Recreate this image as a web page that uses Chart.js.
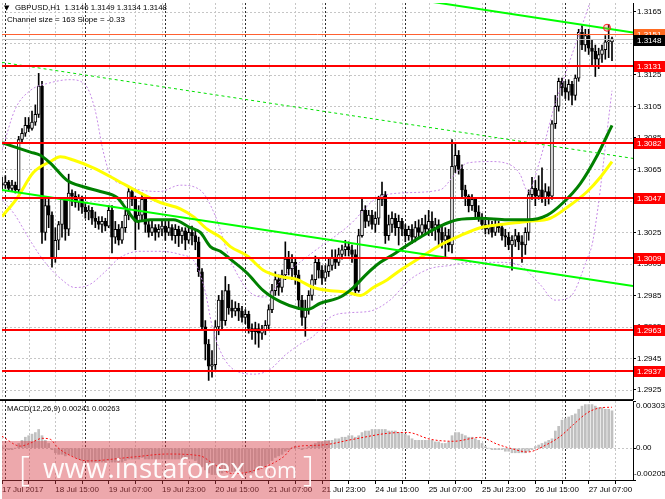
<!DOCTYPE html>
<html><head><meta charset="utf-8">
<script src="https://cdn.jsdelivr.net/npm/chart.js@4.4.1/dist/chart.umd.min.js"></script>
<style>
html,body{margin:0;padding:0;background:#fff;overflow:hidden}
#wrap{position:relative;width:665px;height:499px;background:#fff}
.pane{position:absolute;left:0}
</style></head><body>
<div id="wrap">
<div class="pane" style="top:0;width:665px;height:400px"><canvas id="main" width="665" height="400"></canvas></div>
<div class="pane" style="top:400px;width:665px;height:99px"><canvas id="macd" width="665" height="99"></canvas></div>
</div>
<script>
// ---------------- DATA ----------------
const symbol = 'GBPUSD,H1';
const xLabels = ['17 Jul 2017','18 Jul 15:00','19 Jul 07:00','19 Jul 23:00','20 Jul 15:00','21 Jul 07:00','21 Jul 23:00','24 Jul 15:00','25 Jul 07:00','25 Jul 23:00','26 Jul 15:00','27 Jul 07:00'];
const labelBars = [0,16,32,48,64,80,96,112,128,144,160,176];
const dayStarts = [1,25,49,73,97,121,145,169];
const priceTicks = [1.2925,1.2945,1.2965,1.2985,1.3005,1.3025,1.3045,1.3065,1.3085,1.3105,1.3125,1.3145,1.3165];
const levels = [1.3131,1.3082,1.3047,1.3009,1.2963,1.2937];
const askLine = 1.3151;
const bidLine = 1.3148;
const channelSize = 163, channelSlope = -0.33;

const opens = [1.3056,1.3055,1.3057,1.3053,1.3055,1.3052,1.3084,1.3088,1.3093,1.3091,
1.3095,1.3100,1.3118,1.3025,1.3042,1.3036,1.3009,1.3020,1.3030,1.3046,
1.3027,1.3050,1.3048,1.3044,1.3047,1.3041,1.3038,1.3039,1.3034,1.3032,
1.3030,1.3032,1.3029,1.3039,1.3022,1.3027,1.3020,1.3028,1.3036,1.3051,
1.3046,1.3032,1.3036,1.3046,1.3030,1.3025,1.3028,1.3025,1.3027,1.3029,
1.3025,1.3028,1.3023,1.3027,1.3023,1.3026,1.3020,1.3025,1.3023,1.3019,
1.3000,1.2965,1.2954,1.2940,1.2941,1.2965,1.2982,1.2969,1.2988,1.2977,
1.2975,1.2977,1.2975,1.2971,1.2973,1.2964,1.2962,1.2964,1.2961,1.2963,
1.2966,1.2976,1.2988,1.2995,1.2990,1.2998,1.3008,1.3002,1.3006,1.2998,
1.2982,1.2971,1.2976,1.2985,1.2995,1.3006,1.3001,1.2996,1.3000,1.3004,
1.3009,1.3006,1.3011,1.3014,1.3016,1.3014,1.3011,1.2988,1.3023,1.3039,
1.3032,1.3036,1.3030,1.3034,1.3046,1.3049,1.3023,1.3030,1.3034,1.3028,
1.3032,1.3027,1.3023,1.3027,1.3022,1.3028,1.3025,1.3030,1.3027,1.3032,
1.3028,1.3030,1.3025,1.3020,1.3023,1.3017,1.3067,1.3074,1.3065,1.3052,
1.3048,1.3042,1.3046,1.3038,1.3034,1.3030,1.3027,1.3029,1.3025,1.3030,
1.3028,1.3023,1.3022,1.3017,1.3020,1.3023,1.3019,1.3017,1.3025,1.3049,
1.3053,1.3048,1.3052,1.3047,1.3051,1.3048,1.3094,1.3105,1.3121,1.3117,
1.3114,1.3119,1.3112,1.3123,1.3152,1.3144,1.3150,1.3142,1.3140,1.3135,
1.3138,1.3141,1.3146,1.3146];
const closes = [1.3055,1.3057,1.3053,1.3055,1.3052,1.3084,1.3088,1.3093,1.3091,1.3095,
1.3100,1.3118,1.3025,1.3042,1.3036,1.3009,1.3020,1.3030,1.3046,1.3027,
1.3050,1.3048,1.3044,1.3047,1.3041,1.3038,1.3039,1.3034,1.3032,1.3030,
1.3032,1.3029,1.3039,1.3022,1.3027,1.3020,1.3028,1.3036,1.3051,1.3046,
1.3032,1.3036,1.3046,1.3030,1.3025,1.3028,1.3025,1.3027,1.3029,1.3025,
1.3028,1.3023,1.3027,1.3023,1.3026,1.3020,1.3025,1.3023,1.3019,1.3000,
1.2965,1.2954,1.2940,1.2941,1.2965,1.2982,1.2969,1.2988,1.2977,1.2975,
1.2977,1.2975,1.2971,1.2973,1.2964,1.2962,1.2964,1.2961,1.2963,1.2966,
1.2976,1.2988,1.2995,1.2990,1.2998,1.3008,1.3002,1.3006,1.2998,1.2982,
1.2971,1.2976,1.2985,1.2995,1.3006,1.3001,1.2996,1.3000,1.3004,1.3009,
1.3006,1.3011,1.3014,1.3016,1.3014,1.3011,1.2988,1.3023,1.3039,1.3032,
1.3036,1.3030,1.3034,1.3046,1.3049,1.3023,1.3030,1.3034,1.3028,1.3032,
1.3027,1.3023,1.3027,1.3022,1.3028,1.3025,1.3030,1.3027,1.3032,1.3028,
1.3030,1.3025,1.3020,1.3023,1.3017,1.3067,1.3074,1.3065,1.3052,1.3048,
1.3042,1.3046,1.3038,1.3034,1.3030,1.3027,1.3029,1.3025,1.3030,1.3028,
1.3023,1.3022,1.3017,1.3020,1.3023,1.3019,1.3017,1.3025,1.3049,1.3053,
1.3048,1.3052,1.3047,1.3051,1.3048,1.3094,1.3105,1.3121,1.3117,1.3114,
1.3119,1.3112,1.3123,1.3152,1.3144,1.3150,1.3142,1.3140,1.3135,1.3138,
1.3141,1.3146,1.3146,1.3148];
const highs = [1.3060,1.3061,1.3058,1.3058,1.3057,1.3086,1.3091,1.3098,1.3098,1.3102,
1.3106,1.3126,1.3121,1.3047,1.3046,1.3038,1.3028,1.3032,1.3047,1.3047,
1.3062,1.3052,1.3051,1.3049,1.3048,1.3044,1.3042,1.3041,1.3038,1.3035,
1.3035,1.3034,1.3042,1.3042,1.3032,1.3030,1.3032,1.3039,1.3054,1.3053,
1.3048,1.3042,1.3050,1.3047,1.3033,1.3032,1.3030,1.3030,1.3033,1.3032,
1.3032,1.3030,1.3030,1.3029,1.3028,1.3028,1.3028,1.3029,1.3027,1.3022,
1.3002,1.2969,1.2957,1.2950,1.2969,1.2985,1.2988,1.2997,1.2992,1.2982,
1.2981,1.2980,1.2978,1.2976,1.2975,1.2967,1.2968,1.2967,1.2966,1.2969,
1.2979,1.2992,1.3000,1.2998,1.3001,1.3019,1.3013,1.3011,1.3009,1.3001,
1.2985,1.2982,1.2988,1.2998,1.3010,1.3009,1.3004,1.3004,1.3009,1.3014,
1.3014,1.3015,1.3017,1.3020,1.3019,1.3017,1.3014,1.3027,1.3047,1.3042,
1.3039,1.3039,1.3038,1.3048,1.3057,1.3051,1.3036,1.3038,1.3037,1.3036,
1.3034,1.3030,1.3029,1.3030,1.3032,1.3033,1.3034,1.3036,1.3039,1.3038,
1.3034,1.3033,1.3030,1.3028,1.3027,1.3084,1.3081,1.3077,1.3068,1.3055,
1.3049,1.3049,1.3047,1.3042,1.3037,1.3033,1.3033,1.3032,1.3033,1.3032,
1.3030,1.3027,1.3025,1.3023,1.3027,1.3025,1.3023,1.3028,1.3052,1.3060,
1.3058,1.3061,1.3066,1.3056,1.3054,1.3096,1.3112,1.3123,1.3123,1.3121,
1.3122,1.3121,1.3125,1.3154,1.3157,1.3154,1.3154,1.3147,1.3144,1.3142,
1.3144,1.3150,1.3157,1.3149];
const lows = [1.3052,1.3053,1.3051,1.3051,1.3050,1.3050,1.3082,1.3086,1.3089,1.3090,
1.3093,1.3098,1.3018,1.3020,1.3028,1.3003,1.3006,1.3014,1.3022,1.3020,
1.3023,1.3042,1.3041,1.3039,1.3037,1.3034,1.3033,1.3030,1.3028,1.3027,
1.3025,1.3026,1.3028,1.3012,1.3018,1.3017,1.3018,1.3025,1.3033,1.3042,
1.3014,1.3027,1.3032,1.3025,1.3022,1.3023,1.3020,1.3022,1.3023,1.3020,
1.3023,1.3020,1.3018,1.3016,1.3018,1.3014,1.3018,1.3017,1.3014,1.2997,
1.2963,1.2944,1.2931,1.2933,1.2938,1.2960,1.2963,1.2966,1.2973,1.2971,
1.2972,1.2969,1.2968,1.2967,1.2961,1.2957,1.2954,1.2952,1.2957,1.2960,
1.2963,1.2974,1.2985,1.2985,1.2987,1.2995,1.2998,1.2995,1.2992,1.2976,
1.2966,1.2959,1.2973,1.2982,1.2992,1.2996,1.2992,1.2994,1.2997,1.3001,
1.3002,1.3004,1.3008,1.3010,1.3010,1.3006,1.2985,1.2987,1.3022,1.3028,
1.3029,1.3027,1.3025,1.3030,1.3042,1.3018,1.3020,1.3025,1.3023,1.3017,
1.3023,1.3019,1.3020,1.3018,1.3019,1.3022,1.3023,1.3024,1.3023,1.3023,
1.3020,1.3017,1.3015,1.3009,1.3013,1.3012,1.3063,1.3062,1.3047,1.3042,
1.3038,1.3039,1.3035,1.3032,1.3027,1.3024,1.3024,1.3022,1.3023,1.3025,
1.3020,1.3016,1.3014,1.3001,1.3016,1.3014,1.3006,1.3011,1.3020,1.3046,
1.3042,1.3046,1.3044,1.3042,1.3043,1.3046,1.3091,1.3102,1.3112,1.3110,
1.3109,1.3106,1.3109,1.3121,1.3141,1.3140,1.3138,1.3131,1.3124,1.3129,
1.3133,1.3135,1.3136,1.3134];

// moving averages / bands: [bar, price]
const greenMa = [[0,1.3082],[8.5,1.3076],[11.5,1.3074],[14.5,1.3069],[19.6,1.3058],[24.4,1.3054],[29.5,1.3051],[34.6,1.3047],[37.6,1.3039],[40.6,1.3032],[44.5,1.3033],[51.4,1.3033],[56.5,1.3028],[59.5,1.3025],[62.5,1.3016],[65.5,1.3013],[68.5,1.3008],[73.6,1.2999],[78.4,1.2988],[83.5,1.2981],[88.6,1.2977],[91.6,1.2976],[95.5,1.2980],[101.5,1.2984],[105.4,1.2990],[109.6,1.2999],[113.5,1.3006],[117.4,1.3011],[119.5,1.3014],[125.5,1.3022],[131.5,1.3029],[136.6,1.3033],[143.5,1.3034],[151.6,1.3033],[157.6,1.3033],[163.6,1.3036],[168.4,1.3044],[173.5,1.3056],[178.6,1.3074],[183,1.3093]];
const yellowMa = [[0,1.3035],[4.6,1.3047],[9.4,1.3063],[14.5,1.3070],[17.5,1.3073],[21.4,1.3071],[27.4,1.3066],[34.6,1.3058],[41.5,1.3050],[47.5,1.3044],[53.5,1.3040],[57.4,1.3035],[61.6,1.3027],[65.5,1.3022],[68.5,1.3016],[73.6,1.3010],[78.4,1.3001],[83.5,1.2997],[88.6,1.2995],[93.4,1.2990],[98.5,1.2988],[103.6,1.2987],[107.5,1.2985],[111.4,1.2990],[115.6,1.2995],[119.5,1.3001],[125.5,1.3009],[131.5,1.3017],[137.5,1.3023],[143.5,1.3028],[149.5,1.3030],[157.6,1.3032],[164.5,1.3034],[169.6,1.3041],[175.6,1.3051],[179.5,1.3060],[183,1.3070]];
const bandUpper = [[0,1.3077],[3.9,1.3103],[8.4,1.3115],[14.4,1.3120],[20.4,1.3122],[24.9,1.3119],[27.9,1.3103],[30.3,1.3077],[32.4,1.3062],[36.9,1.3055],[41.4,1.3052],[47.4,1.3051],[53.4,1.3055],[59.4,1.3052],[63.9,1.3036],[68.4,1.3008],[74.4,1.2987],[78.9,1.2984],[84.9,1.2998],[92.4,1.3011],[104.4,1.3030],[111.9,1.3046],[119.4,1.3050],[131.4,1.3052],[135.9,1.3062],[139.5,1.3069],[146.4,1.3070],[152.4,1.3068],[155.4,1.3062],[157.8,1.3051],[161.4,1.3071],[165.3,1.3102],[168.9,1.3125],[172.8,1.3149],[176.4,1.3171],[179.4,1.3189],[183,1.3205]];
const bandLower = [[0,1.3046],[3.9,1.3036],[8.4,1.3020],[12.9,1.3006],[17.4,1.2996],[21.9,1.2990],[26.4,1.2992],[30.9,1.3000],[35.4,1.3009],[41.4,1.3013],[47.4,1.3013],[53.4,1.3011],[57.9,1.3006],[60.9,1.2988],[63.3,1.2963],[66.9,1.2944],[71.4,1.2936],[75.9,1.2935],[80.4,1.2938],[84.9,1.2947],[89.4,1.2954],[93.9,1.2960],[98.4,1.2971],[104.4,1.2974],[110.4,1.2975],[116.4,1.2982],[122.4,1.2995],[128.4,1.3002],[134.4,1.3004],[140.4,1.3006],[149.4,1.3006],[155.4,1.3004],[161.4,1.2992],[165.9,1.2982],[170.4,1.2984],[175.5,1.3008],[177.3,1.3020],[183,1.3115]];
// regression channel endpoints [bar start, bar end]
const channelBars = [0,189.3];
const channelUpper = [1.3213,1.3152];
const channelMid = [1.3133,1.3072];
const channelLower = [1.3052,1.2991];
const alertMark = [181.5,1.3155];

// MACD(12,26,9)
const macdHist = [0.0001,0.0000,-0.0001,-0.0001,0.0000,0.0003,0.0005,0.0007,0.0008,0.0009,
0.0010,0.0012,0.0008,0.0005,0.0003,-0.0001,-0.0003,-0.0004,-0.0004,-0.0005,
-0.0004,-0.0005,-0.0006,-0.0007,-0.0008,
-0.0008,-0.0009,-0.0009,-0.0009,-0.0009,-0.0009,-0.0009,-0.0008,-0.0009,-0.0009,-0.0009,
-0.0009,-0.0008,-0.0007,-0.0007,-0.0007,-0.0007,-0.0006,-0.0007,-0.0007,-0.0007,
-0.0007,-0.0007,-0.0007,-0.0007,-0.0007,-0.0007,-0.0007,-0.0007,-0.0007,-0.0007,-0.0007,-0.0007,-0.0008,
-0.0010,-0.0012,-0.0014,-0.0016,-0.0017,-0.0017,-0.0016,-0.0016,-0.0015,-0.0015,-0.0015,-0.0015,-0.0015,-0.0015,-0.0016,-0.0016,-0.0016,
-0.0015,-0.0014,-0.0013,-0.0012,-0.0010,-0.0008,-0.0006,-0.0005,-0.0004,-0.0002,-0.0001,
0.0000,0.0001,0.0000,-0.0001,0.0000,0.0001,0.0002,0.0003,0.0004,
0.0004,0.0005,0.0005,
0.0005,0.0006,0.0006,0.0007,0.0007,
0.0008,0.0008,0.0007,0.0008,0.0010,0.0011,0.0011,0.0012,
0.0012,0.0012,0.0012,0.0012,
0.0011,0.0011,0.0011,0.0010,0.0010,
0.0009,0.0008,0.0006,
0.0005,0.0005,0.0005,0.0005,0.0005,
0.0005,0.0004,0.0004,0.0003,0.0003,
0.0004,0.0008,
0.0010,0.0010,0.0009,
0.0008,0.0007,0.0007,0.0006,0.0005,
0.0003,0.0001,
0.0000,-0.0001,-0.0001,-0.0001,-0.0001,-0.0002,
-0.0002,-0.0003,-0.0003,-0.0003,-0.0003,-0.0003,-0.0002,-0.0001,
0.0001,0.0002,0.0003,0.0004,0.0005,0.0006,
0.0011,0.0014,
0.0018,0.0019,0.0020,0.0021,
0.0022,0.0025,0.0027,0.0028,
0.0028,0.0028,0.0027,
0.0026,0.0026,0.0025,0.0025,0.0024];
const macdSignal = [[0,0.00076],[5.5,0.00013],[8.5,0.00032],[12.1,0.00063],[14.5,0.00057],[16.6,0.00006],[19.6,-0.00038],[25.6,-0.00082],[39.4,-0.00057],[49.6,-0.00038],[59.5,-0.00050],[63.4,-0.00101],[69.4,-0.00164],[75.4,-0.00145],[84.4,-0.00057],[87.4,0.00006],[95.5,0.00019],[105.4,0.00057],[115.6,0.00095],[121.6,0.00101],[128.5,0.00057],[135.4,0.00044],[143.5,0.00069],[148.6,0.00025],[153.4,-0.00006],[157.6,-0.00025],[163.6,0.00025],[167.5,0.00076],[171.4,0.00151],[175.6,0.00227],[179.5,0.00259],[183,0.00263]];
const macdTicks = [0.00303,0,-0.00205];
const macdNow = 0.00241, signalNow = 0.00263;

// ---------------- RENDER ----------------
const FONT = '"Liberation Sans", Arial, sans-serif';
const XMAX = 189.3;
const idx = closes.map((_, i) => i);
const last = closes.length - 1;

function dline(ctx,x1,y1,x2,y2){ctx.beginPath();ctx.moveTo(x1,y1);ctx.lineTo(x2,y2);ctx.stroke();}
function fitText(ctx, txt, x, y, w, fam, weight){
  weight = weight || '';
  ctx.font = weight + ' 10px ' + fam;
  const s = 10 * w / ctx.measureText(txt).width;
  ctx.font = weight + ' ' + s.toFixed(2) + 'px ' + fam;
  ctx.fillText(txt, x, y);
  return ctx.measureText(txt).width;
}
function vGrid(chart){
  const {ctx, chartArea:a, scales:{x}} = chart;
  ctx.save(); ctx.lineWidth = 1;
  ctx.strokeStyle = '#c6c6c6'; ctx.setLineDash([2,2]);
  for (let b = 0; b <= XMAX; b += 8) { const px = Math.round(x.getPixelForValue(b)) + 0.5; dline(ctx, px, a.top, px, a.bottom); }
  ctx.strokeStyle = '#303030'; ctx.setLineDash([2,2]);
  dayStarts.forEach(b => { const px = Math.round(x.getPixelForValue(b)) + 0.5; dline(ctx, px, a.top, px, a.bottom); });
  ctx.restore();
}
function tag(ctx, py, text, bg, fg, left){
  const yy = Math.round(py);
  ctx.fillStyle = bg; ctx.fillRect(left, yy - 5, 31, 11);
  ctx.fillStyle = fg; ctx.font = '8px ' + FONT; ctx.textBaseline = 'middle'; ctx.textAlign = 'left';
  ctx.fillText(text, left + 3, yy + 0.5);
}

const mainDecor = {
  id: 'mainDecor',
  beforeDatasetsDraw(chart){
    const {ctx, chartArea:a, scales:{y}} = chart;
    ctx.save(); ctx.lineWidth = 1; ctx.strokeStyle = '#c6c6c6'; ctx.setLineDash([2,2]);
    priceTicks.forEach(v => { const py = Math.round(y.getPixelForValue(v)) + 0.5; dline(ctx, a.left, py, a.right, py); });
    ctx.restore();
    vGrid(chart);
  },
  afterDatasetsDraw(chart){
    const {ctx, chartArea:a, scales:{y}} = chart;
    ctx.save();
    ctx.beginPath(); ctx.rect(a.left, a.top, a.right - a.left, a.bottom - a.top); ctx.clip();
    ctx.strokeStyle = '#c0c0c0'; ctx.lineWidth = 1;
    let py = Math.round(y.getPixelForValue(bidLine)) + 0.5; dline(ctx, a.left, py, a.right, py);
    ctx.strokeStyle = '#ff6030';
    py = Math.round(y.getPixelForValue(askLine)) + 0.5; dline(ctx, a.left, py, a.right, py);
    ctx.strokeStyle = '#ff0000'; ctx.lineWidth = 2;
    levels.forEach(v => { const p = Math.round(y.getPixelForValue(v)); dline(ctx, a.left, p, a.right, p); });
    ctx.restore();
  },
  afterDraw(chart){
    const {ctx, chartArea:a, scales:{y}} = chart;
    ctx.save();
    levels.forEach(v => tag(ctx, y.getPixelForValue(v), v.toFixed(4), '#ff0000', '#ffffff', a.right + 1));
    tag(ctx, y.getPixelForValue(askLine), askLine.toFixed(4), '#ff6a20', '#ffffff', a.right + 1);
    tag(ctx, y.getPixelForValue(bidLine) + 1, bidLine.toFixed(4), '#000000', '#ffffff', a.right + 1);
    ctx.strokeStyle = '#202020'; ctx.lineWidth = 1; dline(ctx, 0, 399.5, a.right, 399.5);
    ctx.fillStyle = '#000'; ctx.textBaseline = 'middle'; ctx.textAlign = 'left';
    ctx.font = '7px "DejaVu Sans"'; ctx.fillText('\u25BC', 4, 8);
    const head = symbol + '  ' + opens[last].toFixed(4) + ' ' + highs[last].toFixed(4) + ' ' + lows[last].toFixed(4) + ' ' + closes[last].toFixed(4);
    fitText(ctx, head, 15, 8, 152, FONT);
    fitText(ctx, 'Channel size = ' + channelSize + ' Slope = ' + channelSlope.toFixed(2), 7, 19.5, 118, FONT);
    ctx.restore();
  }
};

const pts = arr => arr.map(p => ({x: p[0], y: p[1]}));
const seg = (bars, vals) => bars.map((b, i) => ({x: b, y: vals[i]}));

new Chart(document.getElementById('main'), {
  type: 'bar',
  data: {
    datasets: [
      { type:'line', data: [{x: alertMark[0], y: alertMark[1]}], showLine:false, pointRadius:3.5, pointBorderColor:'#ff2020', pointBackgroundColor:'rgba(255,90,90,0.25)', pointBorderWidth:1, order:1 },
      { type:'line', data: seg(channelBars, channelUpper), borderColor:'#00ff00', borderWidth:2, pointRadius:0, order:5 },
      { type:'line', data: seg(channelBars, channelLower), borderColor:'#00ff00', borderWidth:2, pointRadius:0, order:5 },
      { type:'line', data: seg(channelBars, channelMid), borderColor:'#00e000', borderWidth:1, borderDash:[3,3], pointRadius:0, order:5 },
      { type:'line', data: pts(greenMa), borderColor:'#008000', borderWidth:3, pointRadius:0, cubicInterpolationMode:'monotone', order:8 },
      { type:'line', data: pts(yellowMa), borderColor:'#ffff00', borderWidth:3, pointRadius:0, cubicInterpolationMode:'monotone', order:9 },
      { type:'line', data: pts(bandUpper), borderColor:'#c68ae6', borderWidth:1, borderDash:[2,2], pointRadius:0, cubicInterpolationMode:'monotone', order:12 },
      { type:'line', data: pts(bandLower), borderColor:'#c68ae6', borderWidth:1, borderDash:[2,2], pointRadius:0, cubicInterpolationMode:'monotone', order:12 },
      { type:'bar', data: idx.map(i => ({x:i, y:[opens[i], closes[i]]})), backgroundColor: idx.map(i => closes[i] >= opens[i] ? '#ffffff' : '#000000'), borderColor:'#000000', borderWidth:1, borderSkipped:false, barThickness:3, minBarLength:1, grouped:false, order:19 },
      { type:'bar', data: idx.map(i => ({x:i, y:[lows[i], highs[i]]})), backgroundColor:'#000000', barThickness:1, grouped:false, order:20 }
    ]
  },
  options: {
    responsive:false, animation:false, events:[],
    layout:{ autoPadding:false, padding:{ left:2, top:3, right:0, bottom:1 } },
    plugins:{ legend:{display:false}, tooltip:{enabled:false} },
    scales:{
      x:{ type:'linear', min:0, max:XMAX, offset:false, display:false, grid:{offset:false} },
      y:{ position:'right', min:1.29192, max:1.31707,
          afterFit(s){ s.width = 32; s.paddingTop = 0; s.paddingBottom = 0; },
          afterBuildTicks(s){ s.ticks = priceTicks.map(v => ({value:v})); },
          ticks:{ autoSkip:false, callback:v => Number(v).toFixed(4), font:{family:FONT, size:8, lineHeight:0.1}, color:'#000', padding:1 },
          grid:{ display:true, drawOnChartArea:false, drawTicks:true, tickLength:3, color:'#000' },
          border:{ display:true, color:'#000' } }
    }
  },
  plugins:[mainDecor]
});

const macdDecor = {
  id:'macdDecor',
  beforeDatasetsDraw(chart){
    const {ctx, chartArea:a, scales:{y}} = chart;
    vGrid(chart);
    ctx.save(); ctx.lineWidth = 1; ctx.strokeStyle = '#c6c6c6'; ctx.setLineDash([2,2]);
    const p0 = Math.round(y.getPixelForValue(0)) + 0.5; dline(ctx, a.left, p0, a.right, p0);
    ctx.restore();
  },
  afterDraw(chart){
    const {ctx, chartArea:a, scales:{y}} = chart;
    ctx.save();
    ctx.strokeStyle = '#000'; ctx.lineWidth = 1; dline(ctx, 0, 0.5, a.right, 0.5);
    ctx.fillStyle = '#000'; ctx.textBaseline = 'middle'; ctx.textAlign = 'left'; ctx.font = '8px ' + FONT;
    ctx.fillText(macdTicks[0].toFixed(5), a.right + 3, y.getPixelForValue(macdTicks[0]) + 5);
    ctx.fillText(macdTicks[1].toFixed(2), a.right + 3, y.getPixelForValue(macdTicks[1]));
    ctx.fillText(macdTicks[2].toFixed(5), a.right + 1, y.getPixelForValue(macdTicks[2]) - 6);
    fitText(ctx, 'MACD(12,26,9) ' + macdNow.toFixed(5) + ' ' + signalNow.toFixed(5), 7, 8.5, 113, FONT);
    ctx.fillStyle = 'rgba(214,62,72,0.45)';
    ctx.fillRect(2, 41, 328, 58);
    ctx.fillStyle = 'rgba(255,255,255,0.95)'; ctx.textBaseline = 'alphabetic';
    fitText(ctx, 'www.instaforex', 43, 78, 202, '"Open Sans", sans-serif');
    fitText(ctx, '.com', 248, 78, 49, '"Open Sans", sans-serif');
    ctx.font = '300 34px "Open Sans", sans-serif';
    ctx.fillText('[', 19, 81);
    ctx.fillText(']', 303, 81);
    ctx.restore();
  }
};

new Chart(document.getElementById('macd'), {
  type:'bar',
  data:{ datasets:[
    { type:'line', data: pts(macdSignal), borderColor:'#ff0000', borderWidth:1, borderDash:[2,2], pointRadius:0, cubicInterpolationMode:'monotone', order:1 },
    { type:'bar', data: idx.map(i => ({x:i, y:macdHist[i]})), backgroundColor:'#c0c0c0', barThickness:2, grouped:false, order:2 }
  ]},
  options:{
    responsive:false, animation:false, events:[],
    layout:{ autoPadding:false, padding:{ left:2, top:1, right:0, bottom:0 } },
    plugins:{ legend:{display:false}, tooltip:{enabled:false} },
    scales:{
      x:{ type:'linear', min:0, max:XMAX, offset:false, position:'bottom',
          afterFit(s){ s.height = 19; s.paddingLeft = 0; s.paddingRight = 0; },
          afterBuildTicks(s){ const t = []; for (let b = 0; b <= 184; b += 8) t.push({value:b}); s.ticks = t; },
          ticks:{ autoSkip:false, maxRotation:0, align:'start', padding:1, font:{family:FONT, size:8}, color:'#000',
                  callback:(v) => { const k = labelBars.indexOf(v); return k >= 0 ? xLabels[k] : ''; } },
          grid:{ display:true, offset:false, drawOnChartArea:false, drawTicks:true, tickLength:4, color:'#000' },
          border:{ display:true, color:'#000' } },
      y:{ position:'right', min:-0.00205, max:0.00303,
          afterFit(s){ s.width = 32; s.paddingTop = 0; s.paddingBottom = 0; },
          afterBuildTicks(s){ s.ticks = macdTicks.map(v => ({value:v})); },
          ticks:{ display:false, autoSkip:false },
          grid:{ display:true, drawOnChartArea:false, drawTicks:true, tickLength:3, color:'#000' },
          border:{ display:true, color:'#000' } }
    }
  },
  plugins:[macdDecor]
});
</script>
</body></html>
